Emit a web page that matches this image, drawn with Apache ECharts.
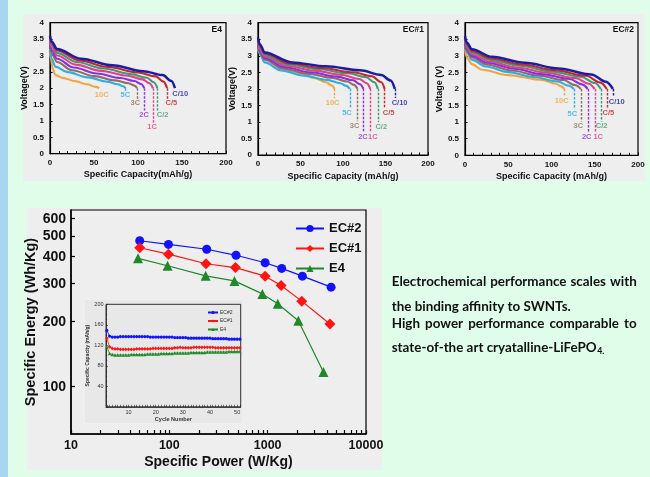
<!DOCTYPE html>
<html><head><meta charset="utf-8">
<script src="https://cdn.jsdelivr.net/npm/echarts@6/dist/echarts.min.js"></script>
<style>html,body{margin:0;padding:0;background:#e0fdea;} #c{width:650px;height:477px;}</style>
</head><body><div id="c"></div>
<script>
// ================= DATA =================
const rateLabels = ['C/10','C/5','C/2','1C','2C','3C','5C','10C'];

// E4 discharge curves [capacity mAh/g, voltage V]
const e4_C10 = [[0,3.6],[2,3.42],[8,3.2],[35,2.9],[71,2.7],[106,2.52],[128,2.4],[138,2.22],[142,2.0]];
const e4_C5  = [[0,3.55],[2,3.38],[8,3.15],[33,2.85],[66,2.65],[100,2.48],[120,2.36],[129,2.2],[133,2.0]];
const e4_C2  = [[0,3.5],[2,3.33],[8,3.08],[30,2.8],[61,2.6],[92,2.43],[110,2.32],[118,2.18],[122,2.0]];
const e4_1C  = [[0,3.45],[2,3.25],[8,3.0],[29,2.72],[58,2.53],[88,2.38],[105,2.27],[113,2.15],[117,2.0]];
const e4_2C  = [[0,3.4],[2,3.15],[8,2.9],[27,2.63],[53,2.45],[80,2.31],[96,2.22],[104,2.12],[107,2.0]];
const e4_3C  = [[0,3.35],[2,3.05],[8,2.8],[25,2.55],[50,2.37],[74,2.24],[89,2.15],[96,2.08],[99,2.0]];
const e4_5C  = [[0,3.2],[2,2.9],[6,2.66],[19,2.5],[43,2.33],[65,2.2],[77,2.12],[83,2.06],[86,2.0]];
const e4_10C = [[0,3.1],[1,2.9],[3,2.6],[6,2.4],[14,2.32],[28,2.22],[42,2.12],[52,2.04],[56,2.0]];
const e4LabelAt = [[148,1.84],[138,1.54],[128,1.19],[116,0.81],[107,1.18],[97,1.54],[85.6,1.79],[58.8,1.79]];
const e4DashTo  = [null,1.68,1.32,0.95,1.32,1.68,1.92,null];

// EC#1 discharge curves
const ec1_C10 = [[0,3.55],[2,3.35],[8,3.1],[40,2.8],[80,2.68],[120,2.56],[145,2.42],[156,2.25],[161,2.0]];
const ec1_C5  = [[0,3.5],[2,3.3],[8,3.06],[37,2.77],[75,2.63],[112,2.5],[134,2.38],[145,2.2],[149,2.0]];
const ec1_C2  = [[0,3.45],[2,3.26],[8,3.02],[35,2.74],[70,2.6],[106,2.47],[127,2.35],[137,2.2],[141,2.0]];
const ec1_1C  = [[0,3.4],[2,3.2],[8,2.98],[33,2.7],[66,2.55],[99,2.42],[119,2.3],[128,2.17],[132,2.0]];
const ec1_2C  = [[0,3.35],[2,3.15],[8,2.93],[31,2.66],[62,2.5],[93,2.37],[112,2.26],[120,2.14],[124,2.0]];
const ec1_3C  = [[0,3.3],[2,3.1],[8,2.88],[29,2.62],[58,2.46],[88,2.33],[105,2.22],[113,2.12],[117,2.0]];
const ec1_5C  = [[0,3.25],[2,3.05],[8,2.8],[27,2.56],[54,2.4],[81,2.27],[97,2.17],[104,2.09],[108,2.0]];
const ec1_10C = [[0,3.2],[2,3.1],[8,2.93],[28,2.62],[50,2.45],[67,2.32],[80,2.2],[87,2.1],[90,2.0]];
const ec1LabelAt = [[166.6,1.56],[153.7,1.26],[145,0.855],[135,0.55],[123.5,0.55],[113.7,0.88],[104.7,1.28],[87.8,1.56]];
const ec1DashTo  = [1.72,1.4,1.0,0.7,0.7,1.02,1.42,1.72];

// EC#2 discharge curves
const ec2_C10 = [[0,3.6],[2,3.4],[8,3.2],[31,2.97],[69,2.79],[108,2.62],[146,2.44],[163,2.22],[171,2.0]];
const ec2_C5  = [[0,3.55],[2,3.35],[8,3.15],[30,2.92],[66,2.74],[103,2.57],[140,2.4],[156,2.2],[164,2.0]];
const ec2_C2  = [[0,3.5],[2,3.3],[8,3.1],[29,2.88],[63,2.7],[99,2.53],[134,2.37],[150,2.18],[157,2.0]];
const ec2_1C  = [[0,3.45],[2,3.25],[8,3.05],[28,2.83],[60,2.65],[94,2.49],[128,2.33],[143,2.16],[150,2.0]];
const ec2_2C  = [[0,3.4],[2,3.2],[8,3.0],[26,2.79],[57,2.61],[89,2.45],[121,2.3],[135,2.14],[142,2.0]];
const ec2_3C  = [[0,3.35],[2,3.15],[8,2.95],[25,2.74],[54,2.56],[84,2.41],[114,2.27],[127,2.12],[134,2.0]];
const ec2_5C  = [[0,3.3],[2,3.1],[8,2.88],[24,2.68],[50,2.51],[79,2.36],[107,2.23],[120,2.1],[126,2.0]];
const ec2_10C = [[0,3.2],[2,2.95],[8,2.75],[20,2.58],[50,2.42],[89,2.27],[105,2.16],[111,2.08],[115,2.0]];
const ec2LabelAt = [[175.4,1.62],[165.7,1.27],[158,0.88],[154,0.56],[140.7,0.56],[131,0.88],[124,1.25],[111.8,1.65]];
const ec2DashTo  = [1.76,1.41,1.02,0.7,0.7,1.02,1.39,1.79];

// Ragone plot (W/Kg, Wh/Kg)
const powerEC2  = [50, 98, 240, 477, 942, 1390, 2255, 4416];
const energyEC2 = [474, 456, 433, 406, 375, 353, 325, 289];
const powerEC1  = [50, 98, 236, 470, 942, 1370, 2220, 4300];
const energyEC1 = [440, 411, 371, 356, 325, 294, 249, 195];
const powerE4   = [48, 96, 234, 459, 884, 1267, 2052, 3690];
const energyE4  = [393, 363, 326, 309, 269, 242, 202, 117];
const energyTicks = [100, 200, 300, 400, 500, 600];
const powerTicks  = [10, 100, 1000, 10000];

// Inset: cycling
const cycles = [2,3,4,5,6,7,8,9,10,11,12,13,14,15,16,17,18,19,20,21,22,23,24,25,26,27,28,29,30,31,32,33,34,35,36,37,38,39,40,41,42,43,44,45,46,47,48,49,50,51];
const capEC2 = [149,138,136,136,136,137,137,137,137,137,137,137,137,137,137,137,136,136,136,136,136,136,136,136,136,135,135,135,135,135,134,134,134,134,134,134,134,134,134,133,133,133,133,133,133,132,132,132,132,132];
const capEC1 = [134,117,114,113,113,112,112,112,112,112,112,113,113,113,113,113,113,114,114,114,114,114,114,114,114,115,115,116,115,115,115,115,116,116,116,116,116,116,116,116,115,115,115,115,115,115,115,115,115,115];
const capE4  = [117,104,102,101,101,101,101,101,101,102,102,102,102,102,102,103,103,103,103,103,104,104,104,104,104,105,105,105,105,105,105,106,106,106,106,106,106,107,107,107,107,107,107,107,107,108,108,108,108,108];
const cycleTicks = [10, 20, 30, 40, 50];

const textLines = [
  'Electrochemical performance scales with',
  'the binding affinity to SWNTs.',
  'High power performance comparable to',
  'state-of-the art cryatalline-LiFePO'
];
const textSub = '4.';

// ================= STYLE / LAYOUT =================
const rateColors = ['#1c1ca6','#c6262e','#3f9b72','#e2408e','#8a2fe0','#8d6e60','#2eaee2','#f3a43c'];
const AF = 'Liberation Sans, Arial, sans-serif';
const panels = [
  {curves:[e4_C10,e4_C5,e4_C2,e4_1C,e4_2C,e4_3C,e4_5C,e4_10C], labelAt:e4LabelAt, dashTo:e4DashTo, tag:'E4',
   grid:{left:50, top:22.7, width:176, height:131}, yName:'Voltage(V)', xName:'Specific Capacity(mAh/g)', yGap:17, xGap:16},
  {curves:[ec1_C10,ec1_C5,ec1_C2,ec1_1C,ec1_2C,ec1_3C,ec1_5C,ec1_10C], labelAt:ec1LabelAt, dashTo:ec1DashTo, tag:'EC#1',
   grid:{left:258, top:22.7, width:170, height:132.3}, yName:'Voltage(V)', xName:'Specific Capacity (mAh/g)', yGap:19, xGap:17},
  {curves:[ec2_C10,ec2_C5,ec2_C2,ec2_1C,ec2_2C,ec2_3C,ec2_5C,ec2_10C], labelAt:ec2LabelAt, dashTo:ec2DashTo, tag:'EC#2',
   grid:{left:465, top:22.7, width:173, height:132.6}, yName:'Voltage (V)', xName:'Specific Capacity (mAh/g)', yGap:19, xGap:17}
];
const mainGrid = {left:71, top:210, width:295, height:224};
const insetGrid = {left:106, top:304.3, width:134.7, height:102.5};

const lg = Math.log10;
const grids = [], xAxes = [], yAxes = [], series = [], graphics = [];
function gridOf(g){ return Object.assign({show:true, borderColor:'#000', borderWidth:1.2, backgroundColor:'transparent', containLabel:false, outerBoundsMode:'none'}, g); }

// backgrounds
graphics.push({type:'rect', shape:{x:0,y:0,width:8,height:477}, style:{fill:'#a9d5ee'}, z:-10});
graphics.push({type:'rect', shape:{x:23,y:14,width:622,height:167}, style:{fill:'#eeeeee'}, z:-10});
graphics.push({type:'rect', shape:{x:27,y:208,width:355,height:262}, style:{fill:'#eeeeee'}, z:-10});
graphics.push({type:'rect', shape:{x:85,y:300,width:157,height:123}, style:{fill:'#e8e8e8'}, z:-9});

panels.forEach((p, pi) => {
  grids.push(gridOf(p.grid));
  xAxes.push({gridIndex:pi, type:'value', min:0, max:200, interval:50,
    axisLine:{show:true, lineStyle:{color:'#000', width:1.2}},
    axisTick:{show:true, inside:true, length:3, lineStyle:{color:'#000', width:1}},
    minorTick:{show:true, splitNumber:5, length:2.5, lineStyle:{color:'#000', width:1}},
    splitLine:{show:false},
    axisLabel:{fontSize:8, fontWeight:'bold', color:'#111', margin:5, fontFamily:AF},
    name:p.xName, nameLocation:'middle', nameGap:p.xGap,
    nameTextStyle:{fontSize:9, fontWeight:'bold', color:'#111', fontFamily:AF}});
  yAxes.push({gridIndex:pi, type:'value', min:0, max:4, interval:0.5,
    axisLine:{show:true, lineStyle:{color:'#000', width:1.2}},
    axisTick:{show:true, inside:true, length:2.5, lineStyle:{color:'#000'}},
    splitLine:{show:false},
    axisLabel:{fontSize:8, fontWeight:'bold', color:'#111', margin:6, fontFamily:AF},
    name:p.yName, nameLocation:'middle', nameGap:p.yGap, nameRotate:90,
    nameTextStyle:{fontSize:9, fontWeight:'bold', color:'#111', fontFamily:AF}});
  p.curves.forEach((data, ci) => {
    const end = data[data.length - 1];
    const s = {type:'line', xAxisIndex:pi, yAxisIndex:pi, data:data, showSymbol:false, symbol:'none',
      smooth:0.35, smoothMonotone:'x', silent:true, animation:false, z:20 - ci,
      lineStyle:{color:rateColors[ci], width: ci === 0 ? 2.5 : 2.1}, itemStyle:{color:rateColors[ci]}};
    if (p.dashTo[ci] != null) {
      s.markLine = {silent:true, animation:false, symbol:['none','none'], label:{show:false},
        lineStyle:{type:[2.5,1.5], color:rateColors[ci], width:1.4},
        data:[[{coord:[end[0], end[1]]}, {coord:[end[0], p.dashTo[ci]]}]]};
    }
    series.push(s);
  });
  series.push({type:'scatter', xAxisIndex:pi, yAxisIndex:pi, symbolSize:1, silent:true, animation:false, z:30,
    itemStyle:{color:'rgba(0,0,0,0)'},
    data:p.labelAt.map((c, ci) => ({value:c, label:{color:rateColors[ci]}})),
    label:{show:true, position:'inside', formatter: prm => rateLabels[prm.dataIndex],
      fontSize:7.5, fontWeight:'bold', fontFamily:AF}});
  graphics.push({type:'text', x:p.grid.left + p.grid.width - 4, y:p.grid.top + 7,
    style:{text:p.tag, fill:'#111', font:'bold 8.5px ' + AF, textAlign:'right', textVerticalAlign:'middle'}, z:50});
});

// main Ragone chart (log-log)
grids.push(gridOf(mainGrid));
const minorPow = [];
[10, 100, 1000].forEach(d => { for (let k = 1; k <= 9; k++) minorPow.push(lg(d * k)); });
minorPow.push(4);
xAxes.push({gridIndex:3, type:'value', min:lg(10), max:lg(10000),
  axisLine:{show:true, lineStyle:{color:'#000', width:1.5}},
  axisTick:{show:true, inside:true, length:4, customValues:minorPow, lineStyle:{color:'#000', width:1.2}},
  splitLine:{show:false},
  axisLabel:{customValues:powerTicks.map(lg), formatter: v => String(Math.round(Math.pow(10, v))),
    fontSize:12.5, fontWeight:'bold', color:'#111', margin:5, fontFamily:AF},
  name:'Specific Power (W/Kg)', nameLocation:'middle', nameGap:21,
  nameTextStyle:{fontSize:14, fontWeight:'bold', color:'#111', fontFamily:AF}});
yAxes.push({gridIndex:3, type:'value', min:lg(60.4), max:lg(658),
  axisLine:{show:true, lineStyle:{color:'#000', width:1.5}},
  axisTick:{show:true, inside:true, length:4, customValues:energyTicks.map(lg), lineStyle:{color:'#000', width:1.2}},
  splitLine:{show:false},
  axisLabel:{customValues:energyTicks.map(lg), formatter: v => String(Math.round(Math.pow(10, v))),
    fontSize:14, fontWeight:'bold', color:'#111', margin:5, fontFamily:AF},
  name:'Specific Energy (Wh/Kg)', nameLocation:'middle', nameGap:30, nameRotate:90,
  nameTextStyle:{fontSize:14.5, fontWeight:'bold', color:'#111', fontFamily:AF}});
const mainDefs = [
  {name:'EC#2', p:powerEC2, e:energyEC2, color:'#1212ff', symbol:'circle', size:9},
  {name:'EC#1', p:powerEC1, e:energyEC1, color:'#ff1414', symbol:'diamond', size:11},
  {name:'E4',   p:powerE4,  e:energyE4,  color:'#20882a', symbol:'triangle', size:10}
];
mainDefs.forEach(d => {
  series.push({type:'line', name:d.name, xAxisIndex:3, yAxisIndex:3, animation:false, silent:true,
    data:d.p.map((pw, i) => [lg(pw), lg(d.e[i])]),
    symbol:d.symbol, symbolSize:d.size, lineStyle:{color:d.color, width:1.2}, itemStyle:{color:d.color}});
});

// inset
grids.push(gridOf(Object.assign({borderWidth:0.8}, insetGrid)));
const cycTickVals = cycles.slice();
xAxes.push({gridIndex:4, type:'value', min:1.7, max:51.3,
  axisLine:{show:true, lineStyle:{color:'#222', width:0.8}},
  axisTick:{show:true, inside:true, length:2, customValues:cycTickVals, lineStyle:{color:'#222', width:0.6}},
  splitLine:{show:false},
  axisLabel:{customValues:cycleTicks, fontSize:5.5, color:'#333', margin:2.5, fontFamily:AF},
  name:'Cycle Number', nameLocation:'middle', nameGap:9,
  nameTextStyle:{fontSize:5.5, fontWeight:'bold', color:'#333', fontFamily:AF}});
yAxes.push({gridIndex:4, type:'value', min:0, max:200, interval:40,
  axisLine:{show:true, lineStyle:{color:'#222', width:0.8}},
  axisTick:{show:true, inside:true, length:2, lineStyle:{color:'#222', width:0.6}},
  minorTick:{show:true, splitNumber:4, length:1.2, lineStyle:{color:'#222', width:0.5}},
  splitLine:{show:false},
  axisLabel:{showMinLabel:false, fontSize:5.5, color:'#333', margin:2.5, fontFamily:AF},
  name:'Specific Capacity (mAh/g)', nameLocation:'middle', nameGap:13, nameRotate:90,
  nameTextStyle:{fontSize:5, fontWeight:'bold', color:'#333', fontFamily:AF}});
const insetDefs = [
  {name:'EC#2', v:capEC2, color:'#1414ff', symbol:'circle', size:3.2},
  {name:'EC#1', v:capEC1, color:'#ff1414', symbol:'diamond', size:3.6},
  {name:'E4',   v:capE4,  color:'#20882a', symbol:'triangle', size:3.4}
];
insetDefs.forEach(d => {
  series.push({type:'line', name:d.name, xAxisIndex:4, yAxisIndex:4, animation:false, silent:true,
    data:cycles.map((c, i) => [c, d.v[i]]),
    symbol:d.symbol, symbolSize:d.size, lineStyle:{color:d.color, width:0.8}, itemStyle:{color:d.color}});
});

// right-side text (justified lines)
const meas = document.createElement('canvas').getContext('2d');
const TF = 'Lato, "Open Sans", sans-serif';
meas.font = 'bold 13px ' + TF;
const w13 = meas.measureText(textLines[0]).width;
const fs = Math.min(14, 13 * 243 / w13);
const tfont = 'bold ' + fs.toFixed(2) + 'px ' + TF;
meas.font = tfont;
const tx0 = 391.7, tx1 = 636.7;
const lineY = [281.7, 306.7, 324, 347.3];
const justify = [true, false, true, false];
textLines.forEach((ln, li) => {
  if (justify[li]) {
    const words = ln.split(' ');
    const ws = words.map(w => meas.measureText(w).width);
    const gap = (tx1 - tx0 - ws.reduce((a, b) => a + b, 0)) / (words.length - 1);
    let x = tx0;
    words.forEach((w, wi) => {
      graphics.push({type:'text', x:x, y:lineY[li], style:{text:w, fill:'#111', font:tfont, textAlign:'left', textVerticalAlign:'middle'}, z:50});
      x += ws[wi] + gap;
    });
  } else {
    graphics.push({type:'text', x:tx0, y:lineY[li], style:{text:ln, fill:'#111', font:tfont, textAlign:'left', textVerticalAlign:'middle'}, z:50});
    if (li === 3) {
      const wl = meas.measureText(ln).width;
      graphics.push({type:'text', x:tx0 + wl + 0.5, y:lineY[li] + 4, style:{text:textSub, fill:'#111', font:'bold ' + (fs * 0.65).toFixed(2) + 'px ' + TF, textAlign:'left', textVerticalAlign:'middle'}, z:50});
    }
  }
});

const chart = echarts.init(document.getElementById('c'), null, {renderer:'canvas', width:650, height:477});
chart.setOption({
  backgroundColor:'#e0fdea',
  animation:false,
  grid:grids, xAxis:xAxes, yAxis:yAxes, series:series,
  legend:[
    {data:['EC#2','EC#1','E4'], orient:'vertical', left:295, top:222, padding:0, itemWidth:28, itemHeight:9, itemGap:7,
     selectedMode:false, textStyle:{fontSize:13, fontWeight:'bold', color:'#111', fontFamily:AF}},
    {data:['EC#2','EC#1','E4'], orient:'vertical', left:207, top:310, padding:0, itemWidth:10, itemHeight:4, itemGap:3.5,
     selectedMode:false, textStyle:{fontSize:5, color:'#333', fontFamily:AF, padding:[0,0,0,-3]}}
  ],
  graphic:{elements:graphics}
});
</script></body></html>
